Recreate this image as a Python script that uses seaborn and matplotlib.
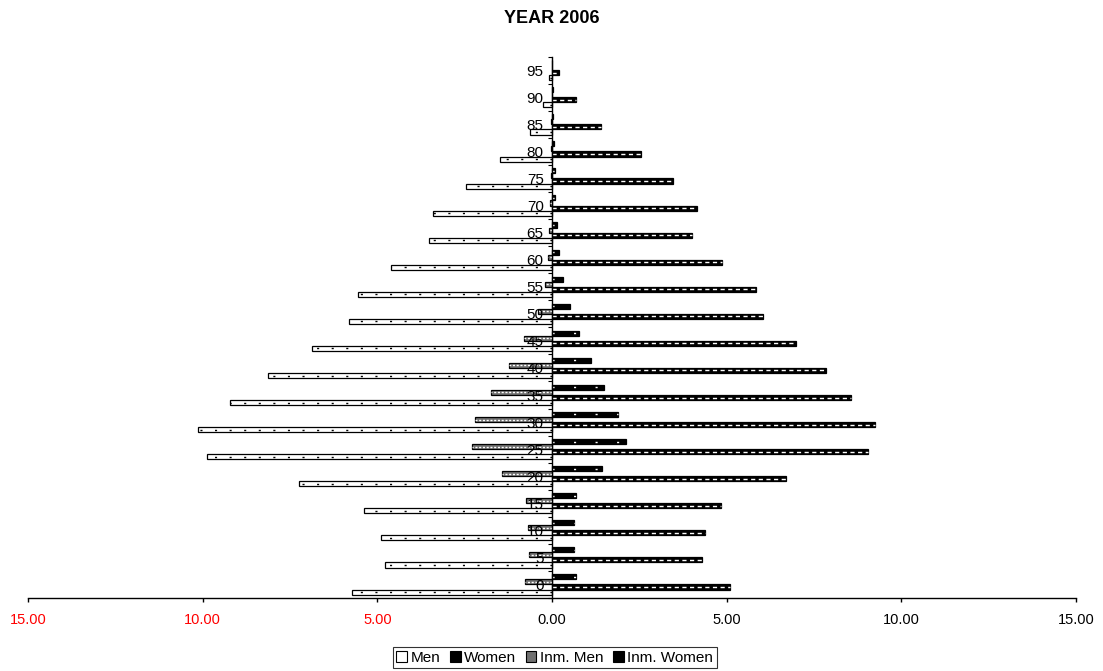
import matplotlib
matplotlib.use('Agg')
import matplotlib.pyplot as plt
import matplotlib.colors as mcolors
from matplotlib.patches import Patch
import numpy as np
import pandas as pd
import seaborn as sns

# Data (percent of population, 5-year age groups)
ages = [0, 5, 10, 15, 20, 25, 30, 35, 40, 45, 50, 55, 60, 65, 70, 75, 80, 85, 90, 95]
men = [5.73, 4.79, 4.90, 5.39, 7.25, 9.89, 10.14, 9.22, 8.12, 6.86,
       5.80, 5.54, 4.60, 3.51, 3.42, 2.45, 1.48, 0.62, 0.25, 0.08]
women = [5.10, 4.29, 4.37, 4.83, 6.69, 9.04, 9.24, 8.56, 7.84, 6.98,
         6.05, 5.84, 4.86, 4.00, 4.14, 3.46, 2.54, 1.40, 0.68, 0.21]
inm_men = [0.76, 0.67, 0.70, 0.74, 1.44, 2.28, 2.19, 1.75, 1.22, 0.79,
           0.41, 0.20, 0.12, 0.08, 0.06, 0.04, 0.03, 0.02, 0.01, 0.01]
inm_women = [0.69, 0.62, 0.62, 0.69, 1.44, 2.12, 1.89, 1.48, 1.11, 0.77,
             0.51, 0.31, 0.20, 0.13, 0.10, 0.08, 0.05, 0.02, 0.02, 0.01]

series = ['Men', 'Women', 'Inm. Men', 'Inm. Women']
xticks = [-15, -10, -5, 0, 5, 10, 15]
xtick_labels = ['15.00', '10.00', '5.00', '0.00', '5.00', '10.00', '15.00']

# long table, men to the left
rows = []
for i, a in enumerate(ages):
    rows.append((str(a), 'Men', -men[i]))
    rows.append((str(a), 'Women', women[i]))
    rows.append((str(a), 'Inm. Men', -inm_men[i]))
    rows.append((str(a), 'Inm. Women', inm_women[i]))
df = pd.DataFrame(rows, columns=['age', 'series', 'value'])

sns.set_theme(style='white')
plt.rcParams['font.family'] = ['Liberation Sans', 'DejaVu Sans']
plt.rcParams['text.color'] = 'black'
plt.rcParams['xtick.color'] = 'black'
plt.rcParams['ytick.color'] = 'black'

fig = plt.figure(figsize=(11.03, 6.71), dpi=100)
ax = fig.add_axes([0.0254, 0.1088, 0.9501, 0.8067])

tmp = {'Men': '#ff0000', 'Women': '#00ff00', 'Inm. Men': '#0000ff', 'Inm. Women': '#ffff00'}
sns.barplot(data=df, x='value', y='age', hue='series',
            order=[str(a) for a in ages[::-1]],
            hue_order=['Inm. Women', 'Inm. Men', 'Women', 'Men'],
            palette=tmp, orient='h', width=0.75, saturation=1,
            errorbar=None, legend=False, ax=ax)

styles = {
    'Men': dict(fc='white', lc='black', ls=(0, (1.5, 9))),
    'Women': dict(fc='black', lc='white', ls=(0, (3, 2.5))),
    'Inm. Men': dict(fc='#707070', lc='white', ls=(0, (1.5, 1.2))),
    'Inm. Women': dict(fc='black', lc='white', ls=(0, (1.5, 14))),
}
lookup = {mcolors.to_hex(c): k for k, c in tmp.items()}
for p in list(ax.patches):
    name = lookup.get(mcolors.to_hex(p.get_facecolor()))
    if name is None:
        continue
    st = styles[name]
    p.set_facecolor(st['fc'])
    p.set_edgecolor('black')
    p.set_linewidth(0.9)
    x0, w = p.get_x(), p.get_width()
    yc = p.get_y() + p.get_height() / 2
    if abs(w) > 0.05:
        ax.plot([x0, x0 + w], [yc, yc], color=st['lc'], lw=1.0, ls=st['ls'],
                solid_capstyle='butt', zorder=p.get_zorder() + 0.1)

ax.set_xlim(-15, 15)
ax.set_ylim(len(ages) - 0.5, -0.5)
ax.set_xlabel('')
ax.set_ylabel('')
ax.set_axisbelow(False)

ax.spines['top'].set_visible(False)
ax.spines['right'].set_visible(False)
ax.spines['left'].set_position(('data', 0))
ax.spines['left'].set_color('black')
ax.spines['bottom'].set_color('black')
ax.spines['left'].set_linewidth(1)
ax.spines['bottom'].set_linewidth(1)

ax.set_xticks(xticks)
ax.set_xticklabels(xtick_labels)
for lbl in ax.get_xticklabels()[:3]:
    lbl.set_color('red')
ax.tick_params(axis='x', bottom=True, length=3, width=1, color='black',
               direction='out', pad=8, labelsize=10.5)
ax.set_yticks(np.arange(-0.5, len(ages), 1), minor=True)
ax.tick_params(axis='y', which='major', left=True, length=0, pad=6, labelsize=11)
ax.tick_params(axis='y', which='minor', left=True, length=3, width=0.8,
               color='black', direction='out')

ax.set_title('')
fig.text(0.5005, 0.972, 'YEAR 2006', ha='center', va='center',
         fontsize=13, fontweight='bold', color='black')

handles = [Patch(facecolor=styles[s]['fc'], edgecolor='black', linewidth=0.8) for s in series]
leg = fig.legend(handles, series, loc='center', bbox_to_anchor=(0.503, 0.0201),
                 ncol=4, frameon=True, fancybox=False, edgecolor='black',
                 fontsize=11, handlelength=0.7, handleheight=0.7,
                 handletextpad=0.25, columnspacing=0.6, borderpad=0.25,
                 borderaxespad=0)
leg.get_frame().set_linewidth(0.8)

fig.savefig('out.png', dpi=100)
